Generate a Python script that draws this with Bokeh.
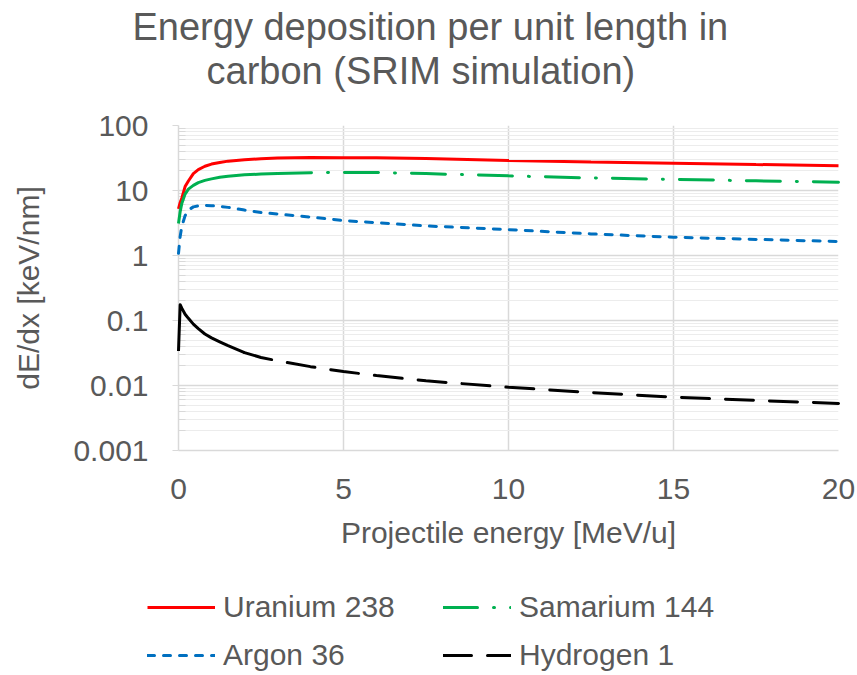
from bokeh.plotting import figure
from bokeh.layouts import column
from bokeh.models import (Range1d, FixedTicker, CustomJSTickFormatter, Title,
                          Legend, LegendItem)
from bokeh.embed import file_html
from bokeh.resources import INLINE

# ---- data ----
energy = [0, 0.05, 0.1, 0.2, 0.3, 0.45, 0.6, 0.8, 1.0, 1.25, 1.5, 2, 2.5, 3,
          4, 5, 6, 7.5, 10, 12.5, 15, 17.5, 20]
uranium = [5.2, 6.5, 7.6, 11.5, 14.0, 18.2, 21.0, 23.6, 25.5, 27.0, 28.3, 29.8,
           30.8, 31.5, 32.2, 32.0, 31.8, 31.0, 29.0, 27.5, 26.3, 25.1, 24.0]
samarium = [3.1, 4.7, 6.3, 8.8, 10.5, 12.0, 13.2, 14.3, 15.1, 16.0, 16.6, 17.4,
            17.9, 18.3, 18.8, 19.0, 18.9, 18.2, 16.8, 15.6, 14.8, 14.1, 13.4]
argon = [1.08, 1.96, 2.8, 4.1, 5.0, 5.6, 5.8, 5.9, 5.85, 5.7, 5.5, 5.0,
         4.6, 4.35, 3.9, 3.45, 3.2, 2.85, 2.5, 2.15, 1.91, 1.77, 1.64]
hydrogen = [0.034, 0.175, 0.155, 0.125, 0.108, 0.088, 0.075, 0.062, 0.054,
            0.047, 0.041, 0.032, 0.027, 0.024, 0.0195, 0.0164, 0.0142, 0.0118,
            0.0094, 0.0078, 0.0066, 0.0059, 0.0053]

series_names = ["Uranium 238", "Samarium 144", "Argon 36", "Hydrogen 1"]
series_values = [uranium, samarium, argon, hydrogen]
title_lines = ["Energy deposition per unit length in", "carbon (SRIM simulation)"]
x_ticks = [0, 5, 10, 15, 20]
y_ticks = [0.001, 0.01, 0.1, 1, 10, 100]
y_minor = [m * d for d in [0.001, 0.01, 0.1, 1, 10] for m in range(2, 10)]

FONT = "Liberation Sans"
GREY = "#595959"
GRID = "#d9d9d9"

styles = [dict(line_color="#ff0000", line_width=3),
          dict(line_color="#00b050", line_width=3, line_dash="34 16 1 16",
               line_cap="round"),
          dict(line_color="#0070c0", line_width=3, line_dash="7 9",
               line_cap="round"),
          dict(line_color="#000000", line_width=3, line_dash="28 16",
               line_cap="round")]

# ================= main chart =================
p = figure(frame_width=660, frame_height=325, x_range=Range1d(0, 20),
           y_range=Range1d(0.001, 100), y_axis_type="log",
           output_backend="svg", toolbar_location=None,
           min_border_left=178, min_border_right=19,
           min_border_top=125, min_border_bottom=125)
p.frame_align = False
p.outline_line_color = None

# title: blank spacer + two lines, stacked outward from the frame
p.add_layout(Title(text=" ", standoff=-10, text_font=FONT,
                   text_font_size="38px"), "above")
p.add_layout(Title(text=title_lines[1], align="left", offset=28, standoff=0,
                   text_font=FONT, text_font_size="38px",
                   text_font_style="normal", text_color=GREY), "above")
p.add_layout(Title(text=title_lines[0], align="left", offset=-46, standoff=0,
                   text_font=FONT, text_font_size="38px",
                   text_font_style="normal", text_color=GREY), "above")

p.xaxis.ticker = FixedTicker(ticks=x_ticks)
p.yaxis.ticker = FixedTicker(ticks=y_ticks, minor_ticks=y_minor)
p.yaxis.formatter = CustomJSTickFormatter(code="return String(tick);")
for ax in (p.xaxis[0], p.yaxis[0]):
    ax.axis_line_color = GRID
    ax.axis_line_width = 1.5
    ax.major_label_text_font = FONT
    ax.major_label_text_font_size = "30px"
    ax.major_label_text_color = GREY
    ax.axis_label_text_font = FONT
    ax.axis_label_text_font_size = "30px"
    ax.axis_label_text_font_style = "normal"
    ax.axis_label_text_color = GREY
p.xaxis.major_tick_line_color = None
p.xaxis.minor_tick_line_color = None
p.xaxis.major_label_standoff = 22
p.xaxis.axis_label = "Projectile energy [MeV/u]"
p.xaxis.axis_label_standoff = 14
p.yaxis.major_tick_line_color = GRID
p.yaxis.major_tick_out = 6
p.yaxis.major_tick_in = 0
p.yaxis.minor_tick_line_color = GRID
p.yaxis.minor_tick_in = 7
p.yaxis.minor_tick_out = 0
p.yaxis.major_label_standoff = 24
p.yaxis.axis_label = "dE/dx [keV/nm]"
p.yaxis.axis_label_standoff = 25

p.xgrid.grid_line_color = GRID
p.xgrid.grid_line_width = 1.5
p.ygrid.grid_line_color = GRID
p.ygrid.grid_line_width = 1.5
p.ygrid.minor_grid_line_color = "#ececec"
p.ygrid.minor_grid_line_width = 1

# lines (drawn above the axis ticks). Excel restarts the dash pattern at
# every point, so the densely sampled low-energy part of some curves looks solid.
p.line(energy, uranium, level="overlay", **styles[0])
p.line(energy[:14], samarium[:14], line_color="#00b050", line_width=3,
       level="overlay")
p.line(energy[13:], samarium[13:], level="overlay", **styles[1])
p.line(energy, argon, level="overlay", **styles[2])
p.line(energy[:12], hydrogen[:12], line_color="#000000", line_width=3,
       line_join="round", level="overlay")
p.line(energy[11:], hydrogen[11:], level="overlay", **styles[3])

# ================= legend strip =================
# the series are drawn again here only to give the legend its samples;
# the y range keeps them out of view
p_leg = figure(width=857, height=100, x_range=Range1d(0, 20),
               y_range=Range1d(-2, -1), output_backend="svg",
               toolbar_location=None, x_axis_location=None,
               y_axis_location=None, min_border=0)
p_leg.frame_align = False
p_leg.grid.visible = False
p_leg.outline_line_color = None
leg_r = [p_leg.line(energy, vals, **st)
         for vals, st in zip(series_values, styles)]
# column-major fill: (Uranium, Argon) | (Samarium, Hydrogen)
order = [0, 2, 1, 3]
legend = Legend(items=[LegendItem(label=series_names[i], renderers=[leg_r[i]])
                       for i in order],
                ncols=2, location=(147, 1), glyph_width=68,
                glyph_height=38, label_height=38, label_standoff=8,
                label_width=210, label_text_font=FONT,
                label_text_font_size="30px", label_text_color=GREY,
                spacing=10, padding=0, margin=0, border_line_color=None,
                background_fill_alpha=0)
p_leg.add_layout(legend, "center")

layout = column(p, p_leg, spacing=0)
open("out.html", "w").write(file_html(layout, INLINE))
